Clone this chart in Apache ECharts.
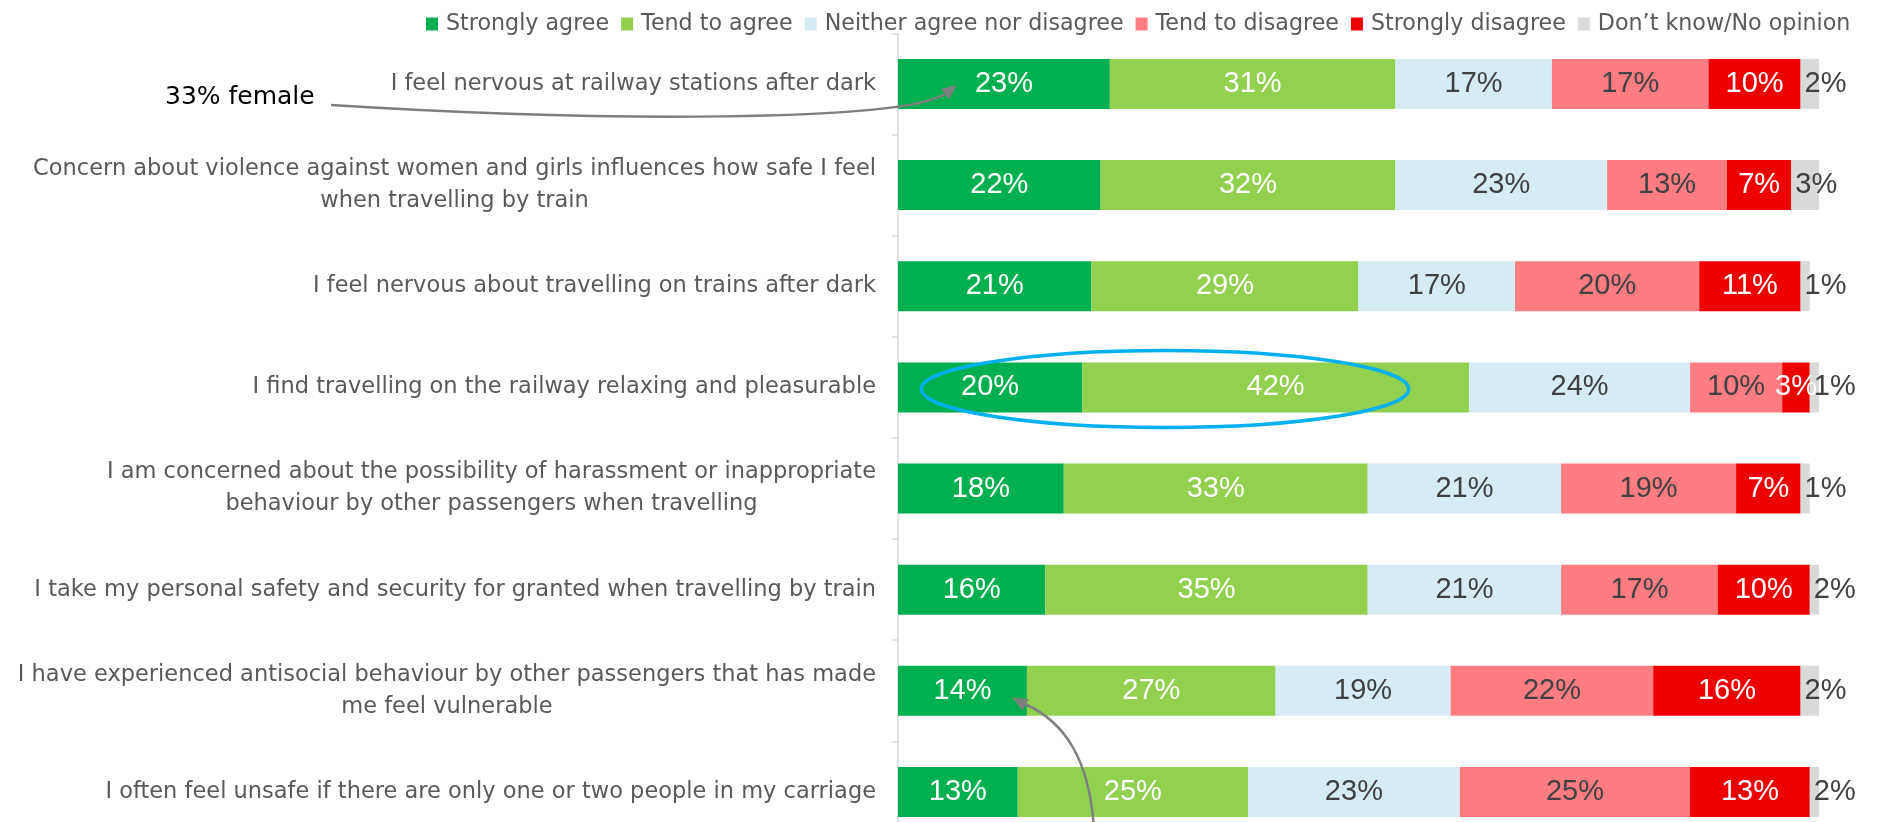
<!DOCTYPE html>
<html><head><meta charset="utf-8">
<script src="https://cdn.jsdelivr.net/npm/echarts@6/dist/echarts.min.js"></script>
<style>html,body{margin:0;padding:0;background:#fff;}#c{width:1882px;height:822px;}</style>
</head><body><div id="c"></div>
<script>
const categories = [
  'I feel nervous at railway stations after dark',
  'Concern about violence against women and girls influences how safe I feel\nwhen travelling by train',
  'I feel nervous about travelling on trains after dark',
  'I find travelling on the railway relaxing and pleasurable',
  'I am concerned about the possibility of harassment or inappropriate\nbehaviour by other passengers when travelling',
  'I take my personal safety and security for granted when travelling by train',
  'I have experienced antisocial behaviour by other passengers that has made\nme feel vulnerable',
  'I often feel unsafe if there are only one or two people in my carriage'
];
const seriesNames = ['Strongly agree', 'Tend to agree', 'Neither agree nor disagree', 'Tend to disagree', 'Strongly disagree', 'Don\u2019t know/No opinion'];
const stronglyAgree    = [23, 22, 21, 20, 18, 16, 14, 13];
const tendToAgree      = [31, 32, 29, 42, 33, 35, 27, 25];
const neither          = [17, 23, 17, 24, 21, 21, 19, 23];
const tendToDisagree   = [17, 13, 20, 10, 19, 17, 22, 25];
const stronglyDisagree = [10,  7, 11,  3,  7, 10, 16, 13];
const dontKnow         = [ 2,  3,  1,  1,  1,  2,  2,  2];

const seriesData = [stronglyAgree, tendToAgree, neither, tendToDisagree, stronglyDisagree, dontKnow];
const colors = ['#00B050', '#92D050', '#D6EBF4', '#FF7C80', '#EE0000', '#D9D9D9'];
const labelColors = ['#FFFFFF', '#FFFFFF', '#404040', '#404040', '#FFFFFF', '#404040'];

function arrowHead(tx, ty, dx, dy, len, hw) {
  const m = Math.hypot(dx, dy); dx /= m; dy /= m;
  const bx = tx - dx * len, by = ty - dy * len;
  const nx = -dy, ny = dx;
  return [[tx, ty], [bx + nx * hw, by + ny * hw], [bx - nx * hw, by - ny * hw]];
}

const chart = echarts.init(document.getElementById('c'), null, {renderer: 'canvas'});
chart.setOption({
  animation: false,
  backgroundColor: '#FFFFFF',
  legend: {
    left: 421, top: 8,
    itemWidth: 12, itemHeight: 13, itemGap: 12,
    icon: 'rect',
    selectedMode: false,
    textStyle: {fontFamily: 'DejaVu Sans', fontSize: 22.2, color: '#595959', padding: [0, 0, 0, 3]},
    data: seriesNames
  },
  grid: {left: 898, top: 33.4, width: 921, height: 809.1, containLabel: false, outerBoundsMode: 'none'},
  xAxis: {type: 'value', min: 0, max: 100, show: false},
  yAxis: {
    type: 'category', inverse: true, data: categories,
    axisLine: {show: true, lineStyle: {color: '#D9D9D9', width: 1.5}},
    axisTick: {show: true, length: 6, lineStyle: {color: '#D9D9D9', width: 1.5}},
    axisLabel: {
      margin: 22, align: 'right',
      formatter: v => v.split('\n').map(l => '{c|' + l + '}').join('\n'),
      rich: {c: {align: 'center', fontFamily: 'DejaVu Sans', fontSize: 22.5, lineHeight: 32, color: '#595959'}}
    }
  },
  series: seriesData.map((d, i) => ({
    name: seriesNames[i], type: 'bar', stack: 'total', data: d, barWidth: 50,
    itemStyle: {color: colors[i]},
    label: {
      show: true, position: i === 5 ? 'insideLeft' : 'inside', distance: 4,
      formatter: '{c}%', color: labelColors[i],
      fontFamily: 'Liberation Sans', fontSize: 29
    },
    emphasis: {disabled: true}
  })),
  graphic: [
    {type: 'ellipse', z: 100, shape: {cx: 1165, cy: 389, rx: 243.7, ry: 38.5},
     style: {fill: null, stroke: '#00B0F0', lineWidth: 3.5}},
    {type: 'text', z: 100, x: 165, y: 97,
     style: {text: '33% female', fontFamily: 'DejaVu Sans', fontSize: 25, fill: '#000000', verticalAlign: 'middle', align: 'left'}},
    {type: 'bezierCurve', z: 100,
     shape: {x1: 331, y1: 105, cpx1: 600, cpy1: 122, cpx2: 900, cpy2: 122, x2: 945, y2: 94},
     style: {stroke: '#7F7F7F', lineWidth: 2.5, fill: null}},
    {type: 'polygon', z: 100, shape: {points: arrowHead(957, 85, 0.8, -0.6, 15, 6.5)}, style: {fill: '#7F7F7F'}},
    {type: 'bezierCurve', z: 100,
     shape: {x1: 1094, y1: 830, cpx1: 1090, cpy1: 760, cpx2: 1065, cpy2: 722, x2: 1025, y2: 704},
     style: {stroke: '#7F7F7F', lineWidth: 2.5, fill: null}},
    {type: 'polygon', z: 100, shape: {points: arrowHead(1012.5, 697.5, -0.87, -0.49, 15, 6.5)}, style: {fill: '#7F7F7F'}}
  ]
});
</script></body></html>
